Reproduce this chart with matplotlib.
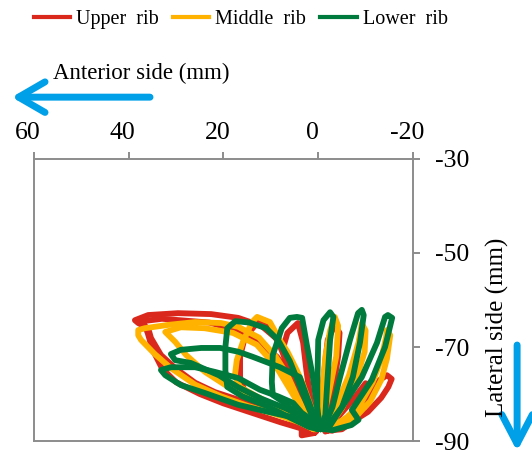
import numpy as np
import matplotlib
matplotlib.use("Agg")
import matplotlib.pyplot as plt
from matplotlib.lines import Line2D
from matplotlib.patches import FancyArrowPatch
from matplotlib.transforms import ScaledTranslation

# Rib trajectories (anterior displacement, lateral displacement) in mm.
# Each rib is a set of closed loops traced by markers on that rib.
upper_rib = [
    [(0.8, -88.3), (1.5, -85.0), (3.2, -79.5), (5.5, -73.5), (8.5, -68.5), (12.0, -65.5),
     (16.9, -63.8), (22.6, -63.0), (29.6, -62.8), (35.9, -63.2), (38.7, -64.3), (38.0, -64.9),
     (35.9, -66.0), (35.3, -68.1), (33.2, -71.7), (30.2, -74.5), (26.0, -77.6), (21.8, -79.6),
     (16.0, -81.5), (10.0, -83.2), (6.0, -85.0), (3.5, -86.8), (3.5, -88.8), (0.8, -88.3)],
    [(1.0, -88.0), (1.7, -86.2), (2.8, -83.0), (4.5, -79.1), (5.8, -76.0), (8.7, -72.1),
     (12.5, -69.0), (17.2, -66.4), (23.0, -64.8), (29.2, -64.3), (33.0, -64.0), (37.0, -64.5),
     (36.0, -67.0), (35.0, -70.5), (33.0, -74.5), (30.0, -77.5), (25.0, -80.0), (20.0, -82.0),
     (14.0, -84.0), (8.0, -86.0), (3.0, -87.5), (1.0, -88.0)],
    [(1.5, -88.3), (2.5, -85.0), (4.0, -80.0), (6.0, -75.0), (8.0, -70.0), (10.0, -66.0),
     (11.5, -64.3), (13.0, -65.0), (15.5, -68.0), (16.5, -72.0), (16.5, -76.5), (15.5, -79.5),
     (13.0, -81.5), (8.0, -84.0), (4.0, -86.5), (1.5, -88.3)],
    [(0.5, -88.0), (1.5, -82.0), (2.5, -75.0), (3.2, -69.0), (4.3, -64.9), (6.5, -67.0),
     (7.5, -70.5), (6.5, -75.0), (4.5, -80.0), (2.0, -86.0), (0.5, -88.0)],
    [(0.5, -88.0), (-0.8, -80.0), (-1.5, -73.0), (-2.0, -68.5), (-3.5, -65.3), (-4.5, -67.0),
     (-4.2, -72.0), (-3.0, -80.0), (-1.5, -88.0)],
    [(-2.0, -87.8), (-5.5, -85.5), (-9.0, -82.5), (-11.5, -79.5), (-13.0, -77.0), (-14.5, -76.0),
     (-15.5, -76.8), (-14.8, -78.5), (-13.3, -80.8), (-10.5, -83.8), (-7.0, -86.0), (-5.0, -87.5),
     (-2.0, -87.8)],
    [(-1.5, -87.5), (-4.5, -84.5), (-7.5, -81.0), (-10.0, -77.7), (-11.0, -78.5), (-9.0, -82.0),
     (-6.0, -85.5), (-3.0, -87.8), (-1.5, -87.5)],
]

middle_rib = [
    [(0.8, -87.5), (2.5, -84.5), (4.5, -80.5), (6.5, -76.0), (9.0, -72.0), (12.5, -68.0),
     (16.9, -65.7), (20.5, -64.9), (26.0, -64.7), (31.7, -65.3), (36.6, -66.0), (38.0, -66.4),
     (38.0, -67.5), (37.4, -68.5), (34.5, -71.5), (31.1, -74.5), (26.0, -78.0), (20.5, -80.5),
     (15.0, -82.5), (9.0, -84.3), (4.0, -86.0), (0.8, -87.5)],
    [(1.0, -87.5), (7.0, -84.5), (13.0, -81.5), (19.0, -78.5), (23.9, -75.3), (27.9, -71.7),
     (30.2, -68.9), (32.3, -66.8), (29.0, -65.8), (24.0, -66.0), (18.0, -67.0), (13.0, -69.5),
     (9.0, -74.0), (6.0, -79.0), (3.0, -84.0), (1.0, -87.5)],
    [(0.5, -87.5), (0.2, -86.0), (1.7, -82.3), (3.2, -78.0), (4.5, -75.0), (6.5, -71.0),
     (8.1, -68.5), (10.2, -64.7), (12.9, -63.6), (14.0, -64.7), (15.9, -68.9), (17.2, -72.8),
     (17.6, -76.2), (16.5, -78.5), (13.0, -80.5), (8.0, -83.0), (4.0, -85.5), (0.5, -87.5)],
    [(0.5, -87.5), (-0.8, -80.0), (-1.5, -72.0), (-2.5, -66.5), (-3.5, -63.6), (-4.2, -65.5),
     (-3.8, -72.0), (-2.2, -80.0), (-0.5, -87.5)],
    [(-1.0, -87.5), (-4.0, -82.0), (-6.5, -76.0), (-8.5, -69.0), (-9.2, -65.0), (-10.0, -66.5),
     (-9.8, -71.0), (-8.0, -77.0), (-5.0, -83.0), (-2.0, -87.5)],
    [(-2.0, -87.5), (-6.0, -85.0), (-9.0, -82.0), (-11.5, -77.5), (-13.3, -72.5), (-14.3, -68.0),
     (-14.5, -66.4), (-15.2, -67.5), (-14.5, -72.5), (-13.3, -77.0), (-11.0, -81.5), (-8.0, -84.8),
     (-4.5, -87.0), (-2.0, -87.5)],
]

lower_rib = [
    [(-1.0, -87.5), (0.0, -86.5), (3.5, -84.0), (5.3, -81.9), (8.5, -80.5), (12.3, -79.1),
     (16.9, -76.6), (21.8, -75.3), (26.0, -74.3), (31.1, -74.3), (33.2, -74.9), (32.3, -76.0),
     (29.0, -78.1), (23.9, -79.8), (19.7, -81.3), (16.9, -82.3), (12.3, -83.4), (7.0, -84.6),
     (2.4, -85.5), (-1.0, -87.5)],
    [(-0.5, -87.5), (1.5, -83.0), (3.9, -76.4), (8.1, -74.3), (13.8, -72.1), (16.9, -71.0),
     (20.7, -70.2), (24.7, -70.2), (29.0, -70.6), (31.1, -71.5), (30.2, -72.8), (26.9, -73.4),
     (21.0, -76.0), (17.0, -78.5), (12.0, -81.0), (7.0, -83.0), (3.0, -85.0), (-0.5, -87.5)],
    [(0.0, -87.5), (2.0, -83.0), (4.0, -78.0), (6.0, -73.0), (8.5, -68.5), (11.0, -66.0),
     (14.5, -64.8), (17.5, -64.5), (19.2, -66.0), (19.6, -70.0), (19.6, -75.0), (19.2, -78.5),
     (16.0, -80.5), (11.0, -82.5), (6.0, -85.0), (2.0, -87.0), (0.0, -87.5)],
    [(-0.5, -87.5), (0.0, -84.5), (1.1, -76.6), (2.4, -69.6), (3.4, -63.8), (4.5, -63.6),
     (6.0, -63.8), (7.7, -66.0), (9.6, -71.7), (9.8, -77.4), (9.6, -80.2), (7.4, -81.7),
     (4.0, -84.5), (1.0, -86.6), (-0.5, -87.5)],
    [(0.2, -87.5), (0.2, -78.0), (0.0, -68.5), (-1.1, -64.3), (-2.5, -62.6), (-3.2, -63.6),
     (-2.5, -68.5), (-1.9, -77.7), (-1.5, -84.5), (-0.5, -87.5)],
    [(-1.0, -87.5), (-3.0, -82.8), (-4.6, -76.4), (-6.7, -68.5), (-8.4, -62.8), (-9.2, -62.1),
     (-9.6, -63.2), (-8.8, -69.1), (-7.3, -76.4), (-5.0, -82.8), (-2.0, -87.5)],
    [(-1.5, -87.5), (-5.0, -82.8), (-9.2, -76.4), (-12.4, -69.1), (-14.1, -63.6), (-14.7, -63.2),
     (-15.6, -63.8), (-14.1, -70.0), (-11.3, -77.0), (-7.1, -83.4), (-8.5, -85.5), (-7.0, -86.6),
     (-3.0, -87.7), (-1.5, -87.5)],
]

rib_labels = ["Upper  rib", "Middle  rib", "Lower  rib"]
rib_colors = ["#DA291C", "#FFB300", "#007A3D"]

x_ticks = [60, 40, 20, 0, -20]
y_ticks = [-30, -50, -70, -90]

plt.rcParams["font.family"] = ["Liberation Serif", "DejaVu Serif"]

fig = plt.figure(figsize=(5.32, 4.54), dpi=100)
ax = fig.add_axes([0.0639, 0.0286, 0.7124, 0.6212])

for loops, color in zip([upper_rib, middle_rib, lower_rib], rib_colors):
    for loop in loops:
        pts = np.array(loop)
        ax.plot(pts[:, 0], pts[:, 1], color=color, lw=4.2,
                solid_joinstyle="round", solid_capstyle="round")

ax.set_xlim(60, -20)
ax.set_ylim(-90, -30)
ax.set_xticks(x_ticks)
ax.set_yticks(y_ticks)
ax.set_xticklabels([str(v) for v in x_ticks])
ax.set_yticklabels([str(v) for v in y_ticks])

spine_color = "#8C8C8C"
for s in ax.spines.values():
    s.set_color(spine_color)
    s.set_linewidth(1.4)

ax.xaxis.tick_top()
ax.yaxis.tick_right()
ax.tick_params(axis="x", direction="out", length=5, width=1.4, color=spine_color,
               labelsize=18.5, pad=6)
ax.tick_params(axis="y", direction="out", length=5, width=1.4, color=spine_color,
               labelsize=18.5, pad=11)

# nudge the top labels slightly to the left
shift = ScaledTranslation(-0.06, 0, fig.dpi_scale_trans)
for lab in ax.get_xticklabels():
    lab.set_transform(lab.get_transform() + shift)

# Legend along the top
handles = [Line2D([], [], color=c, lw=3) for c in rib_colors]
fig.legend(handles, rib_labels, loc="center left", bbox_to_anchor=(0.064, 0.958),
           ncol=3, frameon=False, fontsize=14.5, handlelength=1.8, handletextpad=0.3,
           columnspacing=0.7, borderpad=0, borderaxespad=0)

# Direction labels with arrows
arrow_color = "#00A0E9"
fig.text(0.100, 0.839, "Anterior side (mm)", fontsize=16.5, ha="left", va="center")
fig.patches.append(FancyArrowPatch((0.282, 0.786), (0.022, 0.786), transform=fig.transFigure,
                                   arrowstyle="->,head_length=19,head_width=11",
                                   mutation_scale=1, color=arrow_color, lw=5,
                                   shrinkA=0, shrinkB=0,
                                   capstyle="round", joinstyle="round"))

fig.text(0.936, 0.280, "Lateral side (mm)", fontsize=18, rotation=90,
         ha="center", va="center")
fig.patches.append(FancyArrowPatch((0.972, 0.240), (0.972, 0.006), transform=fig.transFigure,
                                   arrowstyle="->,head_length=21,head_width=11",
                                   mutation_scale=1, color=arrow_color, lw=5,
                                   shrinkA=0, shrinkB=0,
                                   capstyle="round", joinstyle="round"))

fig.savefig("out.png", dpi=100)
